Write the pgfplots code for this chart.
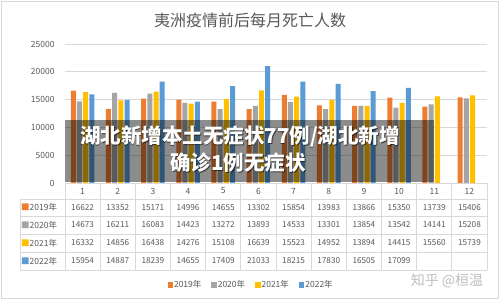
\documentclass[border=0pt]{standalone}
\usepackage{fontspec}
\setmainfont{Noto Sans CJK SC}
\usepackage{pgfplots}
\usepackage{pgfplotstable}
\pgfplotsset{compat=1.18}

\definecolor{c19}{HTML}{ED7D31}
\definecolor{c20}{HTML}{A5A5A5}
\definecolor{c21}{HTML}{FFC000}
\definecolor{c22}{HTML}{5B9BD5}
\definecolor{txt}{HTML}{595959}
\definecolor{gridc}{HTML}{D9D9D9}

% monthly deaths, one column per year (2022 has no data for Nov/Dec)
\pgfplotstableread{
m a     b     c     d
1 16622 14673 16332 15954
2 13352 16211 14856 14887
3 15171 16083 16438 18239
4 14996 14423 14276 14655
5 14655 13272 15108 17409
6 13302 13893 16639 21033
7 15854 14533 15523 18215
8 13983 13301 14952 17830
9 13866 13854 13894 16505
10 15350 13542 14415 17099
11 13739 14141 15560 nan
12 15406 15208 15739 nan
}\deaths

\def\nanstr{nan}
\pgfplotsset{sq/.style={legend image code/.code={\fill[##1] (0pt,-2.7pt) rectangle (5.4pt,2.7pt);}}}

\begin{document}
\begin{tikzpicture}[x=1pt,y=1pt]
\fill[white] (0,0) rectangle (500,303);
\draw[gridc, line width=0.8pt] (1.5,4.5) rectangle (498.5,301.5);
\node[text=txt, font=\fontsize{16}{16}\selectfont] at (250,283) {夷洲疫情前后每月死亡人数};

\begin{axis}[
  at={(65pt,120pt)}, anchor=south west, scale only axis,
  width=422pt, height=139pt,
  xmin=0.5, xmax=12.5, ymin=0, ymax=25000,
  xtick=\empty, ytick={0,5000,...,25000},
  ymajorgrids, grid style={gridc, line width=0.8pt},
  axis line style={draw=none}, major tick length=0pt,
  scaled y ticks=false,
  yticklabel style={font=\fontsize{8.5}{8.5}\selectfont, text=txt, xshift=-7pt,
    /pgf/number format/1000 sep={}, /pgf/number format/assume math mode=true},
  ybar=1.2pt, bar width=5pt,
  legend columns=4,
  legend style={at={(0.44,-0.734)}, anchor=center, draw=none, fill=none,
    font=\fontsize{8.5}{8.5}\selectfont, text=txt,
    nodes={inner xsep=1pt},
    /tikz/every even column/.append style={column sep=9pt}},
]
\addplot[fill=c19, draw=none, sq] table[x=m, y=a] {\deaths};
\addplot[fill=c20, draw=none, sq] table[x=m, y=b] {\deaths};
\addplot[fill=c21, draw=none, sq] table[x=m, y=c] {\deaths};
\addplot[fill=c22, draw=none, sq] table[x=m, y=d] {\deaths};
\legend{2019年, 2020年, 2021年, 2022年}
\end{axis}

% data table below the plot
\begin{scope}[gridc, line width=0.7pt]
  \draw (65,120) -- (487,120);
  \foreach \yy in {104,87,69,51,33} \draw (20,\yy) -- (487,\yy);
  \draw (20,104) -- (20,33);
  \foreach \k in {0,...,12} \draw ({65+\k*35.1667},120) -- ({65+\k*35.1667},33);
\end{scope}
\foreach \k in {1,...,12}
  \node[text=txt, font=\fontsize{8.5}{8.5}\selectfont] at ({65+(\k-0.5)*35.1667},112) {\k};
\foreach \col/\yy/\clr/\lab in {a/95.5/c19/2019年, b/78/c20/2020年, c/60/c21/2021年, d/42/c22/2022年} {
  \node[anchor=west, text=txt, font=\fontsize{8.5}{8.5}\selectfont, inner sep=0pt] at (21,\yy) {{\color{\clr}■}\lab};
  \foreach \r in {0,...,11} {
    \pgfplotstablegetelem{\r}{\col}\of\deaths
    \edef\cur{\pgfplotsretval}
    \ifx\cur\nanstr\else
      \node[text=txt, font=\fontsize{8.2}{8.2}\selectfont] at ({65+(\r+0.5)*35.1667},\yy) {\cur};
    \fi
  }
}

% watermark
\node[text=black!25, font=\fontsize{14}{14}\selectfont] at (447,22) {知乎 @桓温};

% caption banner across the plot
\fill[black, opacity=0.45] (65,121) rectangle (434,183);
\begin{scope}[font=\bfseries\fontsize{20.5}{20.5}\selectfont]
  \node[text=black, opacity=0.55] at (240.8,165.2) {湖北新增本土无症状77例/湖北新增};
  \node[text=black, opacity=0.55] at (238.8,139.2) {确诊1例无症状};
  \node[text=white] at (240,166) {湖北新增本土无症状77例/湖北新增};
  \node[text=white] at (238,140) {确诊1例无症状};
\end{scope}
\end{tikzpicture}
\end{document}
